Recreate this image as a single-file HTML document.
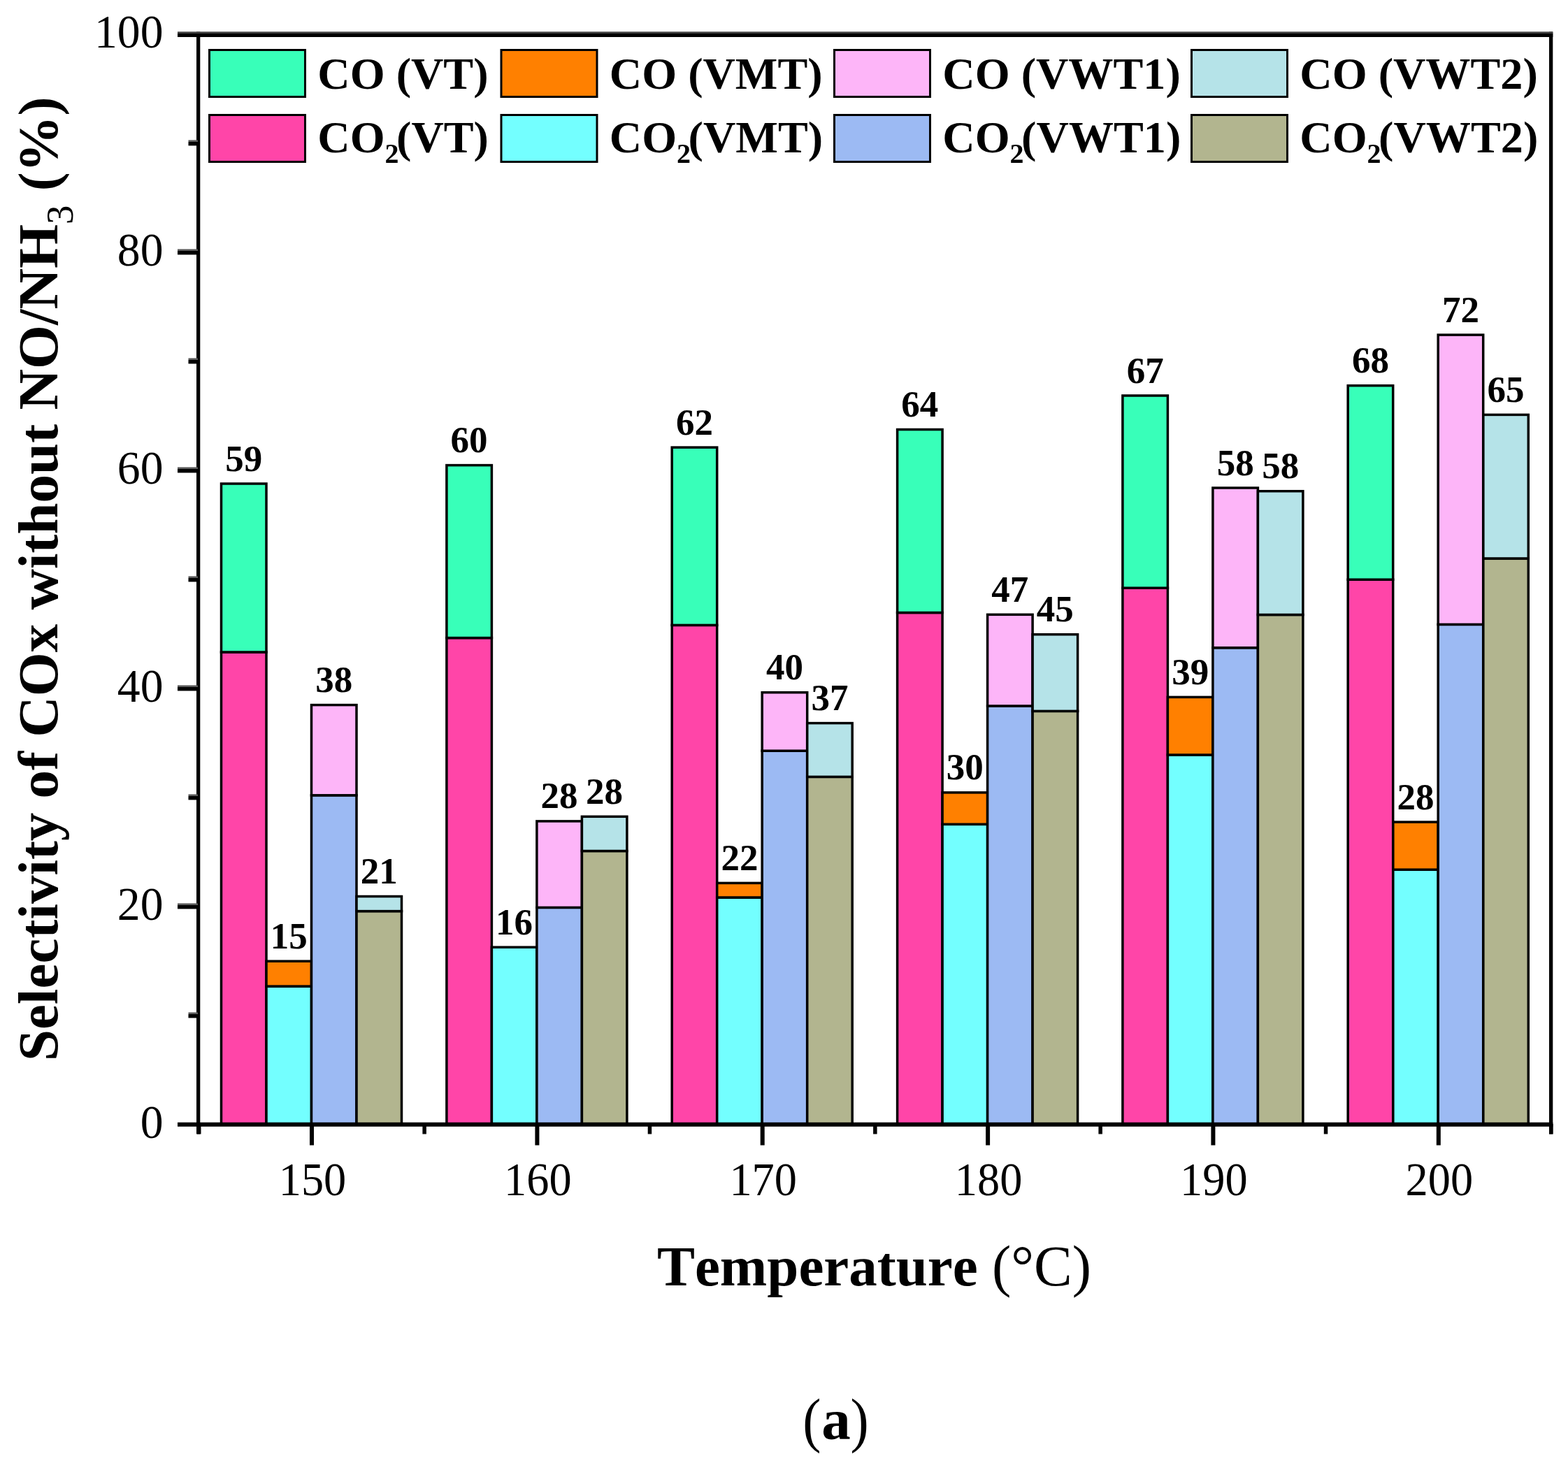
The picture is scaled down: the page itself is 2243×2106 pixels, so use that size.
<!DOCTYPE html>
<html><head><meta charset="utf-8"><title>Selectivity of COx</title><style>
*{margin:0;padding:0}
html,body{width:2243px;height:2106px;background:#fff;overflow:hidden}
svg{display:block}
text{font-family:"Liberation Serif","Times New Roman",serif;fill:#000;font-kerning:none;font-feature-settings:"kern" 0}
.dl{font-size:53px;font-weight:bold;text-anchor:middle}
.tk{font-size:67px}
.tkx{font-size:68.5px}
.lg{font-size:64.2px;font-weight:bold}
.lsub{font-size:40px}
.xt{font-size:81px;font-weight:bold}
.xtr{font-size:82px;font-weight:normal}
.yt{font-size:81px;font-weight:bold}
.ysub{font-size:55px;font-weight:normal}
.cap{font-size:86px}
.capb{font-size:83px;font-weight:bold}
</style></head>
<body>
<svg width="2243" height="2106" viewBox="0 0 2243 2106">
<rect x="0" y="0" width="2243" height="2106" fill="#fff"/>
<rect x="316.5" y="933.0" width="64.5" height="676.0" fill="#FF45A8" stroke="#000" stroke-width="3.5"/>
<rect x="316.5" y="692.0" width="64.5" height="241.0" fill="#38FFB9" stroke="#000" stroke-width="3.5"/>
<text x="348.8" y="673.5" class="dl">59</text>
<rect x="381.0" y="1411.1" width="64.5" height="197.9" fill="#73FFFF" stroke="#000" stroke-width="3.5"/>
<rect x="381.0" y="1375.2" width="64.5" height="35.9" fill="#FF8000" stroke="#000" stroke-width="3.5"/>
<text x="413.2" y="1356.7" class="dl">15</text>
<rect x="445.5" y="1137.8" width="64.5" height="471.2" fill="#9CBAF3" stroke="#000" stroke-width="3.5"/>
<rect x="445.5" y="1008.6" width="64.5" height="129.2" fill="#FDB5F8" stroke="#000" stroke-width="3.5"/>
<text x="477.8" y="990.1" class="dl">38</text>
<rect x="510.0" y="1303.6" width="64.5" height="305.4" fill="#B2B58F" stroke="#000" stroke-width="3.5"/>
<rect x="510.0" y="1282.5" width="64.5" height="21.1" fill="#B5E3E8" stroke="#000" stroke-width="3.5"/>
<text x="542.2" y="1264.0" class="dl">21</text>
<rect x="638.9" y="912.6" width="64.5" height="696.4" fill="#FF45A8" stroke="#000" stroke-width="3.5"/>
<rect x="638.9" y="665.6" width="64.5" height="247.0" fill="#38FFB9" stroke="#000" stroke-width="3.5"/>
<text x="671.1" y="647.1" class="dl">60</text>
<rect x="703.4" y="1355.2" width="64.5" height="253.8" fill="#73FFFF" stroke="#000" stroke-width="3.5"/>
<text x="735.6" y="1336.7" class="dl">16</text>
<rect x="767.9" y="1298.4" width="64.5" height="310.6" fill="#9CBAF3" stroke="#000" stroke-width="3.5"/>
<rect x="767.9" y="1174.9" width="64.5" height="123.5" fill="#FDB5F8" stroke="#000" stroke-width="3.5"/>
<text x="800.1" y="1156.4" class="dl">28</text>
<rect x="832.4" y="1217.5" width="64.5" height="391.5" fill="#B2B58F" stroke="#000" stroke-width="3.5"/>
<rect x="832.4" y="1168.3" width="64.5" height="49.2" fill="#B5E3E8" stroke="#000" stroke-width="3.5"/>
<text x="864.6" y="1149.8" class="dl">28</text>
<rect x="961.2" y="894.4" width="64.5" height="714.6" fill="#FF45A8" stroke="#000" stroke-width="3.5"/>
<rect x="961.2" y="640.1" width="64.5" height="254.3" fill="#38FFB9" stroke="#000" stroke-width="3.5"/>
<text x="993.5" y="621.6" class="dl">62</text>
<rect x="1025.7" y="1284.0" width="64.5" height="325.0" fill="#73FFFF" stroke="#000" stroke-width="3.5"/>
<rect x="1025.7" y="1263.4" width="64.5" height="20.6" fill="#FF8000" stroke="#000" stroke-width="3.5"/>
<text x="1058.0" y="1244.9" class="dl">22</text>
<rect x="1090.2" y="1074.2" width="64.5" height="534.8" fill="#9CBAF3" stroke="#000" stroke-width="3.5"/>
<rect x="1090.2" y="990.7" width="64.5" height="83.5" fill="#FDB5F8" stroke="#000" stroke-width="3.5"/>
<text x="1122.5" y="972.2" class="dl">40</text>
<rect x="1154.7" y="1111.4" width="64.5" height="497.6" fill="#B2B58F" stroke="#000" stroke-width="3.5"/>
<rect x="1154.7" y="1034.6" width="64.5" height="76.8" fill="#B5E3E8" stroke="#000" stroke-width="3.5"/>
<text x="1187.0" y="1016.1" class="dl">37</text>
<rect x="1283.6" y="876.5" width="64.5" height="732.5" fill="#FF45A8" stroke="#000" stroke-width="3.5"/>
<rect x="1283.6" y="614.5" width="64.5" height="262.0" fill="#38FFB9" stroke="#000" stroke-width="3.5"/>
<text x="1315.8" y="596.0" class="dl">64</text>
<rect x="1348.1" y="1179.3" width="64.5" height="429.7" fill="#73FFFF" stroke="#000" stroke-width="3.5"/>
<rect x="1348.1" y="1133.9" width="64.5" height="45.4" fill="#FF8000" stroke="#000" stroke-width="3.5"/>
<text x="1380.3" y="1115.4" class="dl">30</text>
<rect x="1412.6" y="1010.0" width="64.5" height="599.0" fill="#9CBAF3" stroke="#000" stroke-width="3.5"/>
<rect x="1412.6" y="879.3" width="64.5" height="130.7" fill="#FDB5F8" stroke="#000" stroke-width="3.5"/>
<text x="1444.8" y="860.8" class="dl">47</text>
<rect x="1477.1" y="1017.4" width="64.5" height="591.6" fill="#B2B58F" stroke="#000" stroke-width="3.5"/>
<rect x="1477.1" y="907.7" width="64.5" height="109.7" fill="#B5E3E8" stroke="#000" stroke-width="3.5"/>
<text x="1509.3" y="889.2" class="dl">45</text>
<rect x="1605.9" y="841.2" width="64.5" height="767.8" fill="#FF45A8" stroke="#000" stroke-width="3.5"/>
<rect x="1605.9" y="566.0" width="64.5" height="275.2" fill="#38FFB9" stroke="#000" stroke-width="3.5"/>
<text x="1638.2" y="547.5" class="dl">67</text>
<rect x="1670.4" y="1080.0" width="64.5" height="529.0" fill="#73FFFF" stroke="#000" stroke-width="3.5"/>
<rect x="1670.4" y="997.4" width="64.5" height="82.6" fill="#FF8000" stroke="#000" stroke-width="3.5"/>
<text x="1702.7" y="978.9" class="dl">39</text>
<rect x="1734.9" y="926.7" width="64.5" height="682.3" fill="#9CBAF3" stroke="#000" stroke-width="3.5"/>
<rect x="1734.9" y="698.0" width="64.5" height="228.7" fill="#FDB5F8" stroke="#000" stroke-width="3.5"/>
<text x="1767.2" y="679.5" class="dl">58</text>
<rect x="1799.4" y="879.5" width="64.5" height="729.5" fill="#B2B58F" stroke="#000" stroke-width="3.5"/>
<rect x="1799.4" y="702.7" width="64.5" height="176.8" fill="#B5E3E8" stroke="#000" stroke-width="3.5"/>
<text x="1831.7" y="684.2" class="dl">58</text>
<rect x="1928.2" y="829.2" width="64.5" height="779.8" fill="#FF45A8" stroke="#000" stroke-width="3.5"/>
<rect x="1928.2" y="551.7" width="64.5" height="277.5" fill="#38FFB9" stroke="#000" stroke-width="3.5"/>
<text x="1960.5" y="533.2" class="dl">68</text>
<rect x="1992.8" y="1244.2" width="64.5" height="364.8" fill="#73FFFF" stroke="#000" stroke-width="3.5"/>
<rect x="1992.8" y="1176.1" width="64.5" height="68.1" fill="#FF8000" stroke="#000" stroke-width="3.5"/>
<text x="2025.0" y="1157.6" class="dl">28</text>
<rect x="2057.2" y="893.4" width="64.5" height="715.6" fill="#9CBAF3" stroke="#000" stroke-width="3.5"/>
<rect x="2057.2" y="479.1" width="64.5" height="414.3" fill="#FDB5F8" stroke="#000" stroke-width="3.5"/>
<text x="2089.5" y="460.6" class="dl">72</text>
<rect x="2121.8" y="799.0" width="64.5" height="810.0" fill="#B2B58F" stroke="#000" stroke-width="3.5"/>
<rect x="2121.8" y="593.4" width="64.5" height="205.6" fill="#B5E3E8" stroke="#000" stroke-width="3.5"/>
<text x="2154.0" y="574.9" class="dl">65</text>
<rect x="281" y="45.5" width="5.3" height="1577" fill="#000"/>
<rect x="2216" y="45.5" width="5.3" height="1577" fill="#000"/>
<rect x="254" y="45.3" width="1967.3" height="2.7" fill="#444"/>
<rect x="254" y="47.9" width="1967.3" height="5.1" fill="#000"/>
<rect x="254" y="1605.8" width="1967.3" height="6" fill="#000"/>
<text transform="translate(233.5,1627.5) scale(0.98,1)" class="tk" text-anchor="end">0</text>
<rect x="269.5" y="1448.4" width="13.5" height="2.6" fill="#5a5a5a"/>
<rect x="269.5" y="1451.0" width="13.5" height="5.4" fill="#000"/>
<rect x="254" y="1292.4" width="29" height="2.6" fill="#5a5a5a"/>
<rect x="254" y="1295.0" width="29" height="5.4" fill="#000"/>
<text transform="translate(233.5,1315.5) scale(0.98,1)" class="tk" text-anchor="end">20</text>
<rect x="269.5" y="1136.4" width="13.5" height="2.6" fill="#5a5a5a"/>
<rect x="269.5" y="1139.0" width="13.5" height="5.4" fill="#000"/>
<rect x="254" y="980.4" width="29" height="2.6" fill="#5a5a5a"/>
<rect x="254" y="983.0" width="29" height="5.4" fill="#000"/>
<text transform="translate(233.5,1003.5) scale(0.98,1)" class="tk" text-anchor="end">40</text>
<rect x="269.5" y="824.4" width="13.5" height="2.6" fill="#5a5a5a"/>
<rect x="269.5" y="827.0" width="13.5" height="5.4" fill="#000"/>
<rect x="254" y="668.4" width="29" height="2.6" fill="#5a5a5a"/>
<rect x="254" y="671.0" width="29" height="5.4" fill="#000"/>
<text transform="translate(233.5,691.5) scale(0.98,1)" class="tk" text-anchor="end">60</text>
<rect x="269.5" y="512.4" width="13.5" height="2.6" fill="#5a5a5a"/>
<rect x="269.5" y="515.0" width="13.5" height="5.4" fill="#000"/>
<rect x="254" y="356.4" width="29" height="2.6" fill="#5a5a5a"/>
<rect x="254" y="359.0" width="29" height="5.4" fill="#000"/>
<text transform="translate(233.5,379.5) scale(0.98,1)" class="tk" text-anchor="end">80</text>
<rect x="269.5" y="200.4" width="13.5" height="2.6" fill="#5a5a5a"/>
<rect x="269.5" y="203.0" width="13.5" height="5.4" fill="#000"/>
<text transform="translate(233.5,67.5) scale(0.98,1)" class="tk" text-anchor="end">100</text>
<rect x="282.0" y="1608" width="5.5" height="14.5" fill="#000"/>
<rect x="443.0" y="1608" width="6" height="30.5" fill="#000"/>
<text transform="translate(447.0,1709.8) scale(0.94,1)" class="tkx" text-anchor="middle">150</text>
<rect x="604.4" y="1608" width="5.5" height="14.5" fill="#000"/>
<rect x="765.4" y="1608" width="6" height="30.5" fill="#000"/>
<text transform="translate(769.4,1709.8) scale(0.94,1)" class="tkx" text-anchor="middle">160</text>
<rect x="926.7" y="1608" width="5.5" height="14.5" fill="#000"/>
<rect x="1087.7" y="1608" width="6" height="30.5" fill="#000"/>
<text transform="translate(1091.7,1709.8) scale(0.94,1)" class="tkx" text-anchor="middle">170</text>
<rect x="1249.1" y="1608" width="5.5" height="14.5" fill="#000"/>
<rect x="1410.1" y="1608" width="6" height="30.5" fill="#000"/>
<text transform="translate(1414.1,1709.8) scale(0.94,1)" class="tkx" text-anchor="middle">180</text>
<rect x="1571.4" y="1608" width="5.5" height="14.5" fill="#000"/>
<rect x="1732.4" y="1608" width="6" height="30.5" fill="#000"/>
<text transform="translate(1736.4,1709.8) scale(0.94,1)" class="tkx" text-anchor="middle">190</text>
<rect x="1893.8" y="1608" width="5.5" height="14.5" fill="#000"/>
<rect x="2054.8" y="1608" width="6" height="30.5" fill="#000"/>
<text transform="translate(2058.8,1709.8) scale(0.94,1)" class="tkx" text-anchor="middle">200</text>
<rect x="2216.1" y="1608" width="5.5" height="14.5" fill="#000"/>
<rect x="299.5" y="71.5" width="137" height="67" fill="#38FFB9" stroke="#000" stroke-width="3"/>
<text x="454.3" y="126.5" class="lg">CO (VT)</text>
<rect x="299.5" y="164.5" width="137" height="67" fill="#FF45A8" stroke="#000" stroke-width="3"/>
<text x="454.3" y="217.5" class="lg">CO<tspan class="lsub" dy="15">2</tspan><tspan dy="-15" dx="-3.5">(VT)</tspan></text>
<rect x="717.0" y="71.5" width="137" height="67" fill="#FF8000" stroke="#000" stroke-width="3"/>
<text x="871.8" y="126.5" class="lg">CO (VMT)</text>
<rect x="717.0" y="164.5" width="137" height="67" fill="#73FFFF" stroke="#000" stroke-width="3"/>
<text x="871.8" y="217.5" class="lg">CO<tspan class="lsub" dy="15">2</tspan><tspan dy="-15" dx="-3.5">(VMT)</tspan></text>
<rect x="1193.5" y="71.5" width="137" height="67" fill="#FDB5F8" stroke="#000" stroke-width="3"/>
<text x="1348.3" y="126.5" class="lg">CO (VWT1)</text>
<rect x="1193.5" y="164.5" width="137" height="67" fill="#9CBAF3" stroke="#000" stroke-width="3"/>
<text x="1348.3" y="217.5" class="lg">CO<tspan class="lsub" dy="15">2</tspan><tspan dy="-15" dx="-3.5">(VWT1)</tspan></text>
<rect x="1704.5" y="71.5" width="137" height="67" fill="#B5E3E8" stroke="#000" stroke-width="3"/>
<text x="1859.3" y="126.5" class="lg">CO (VWT2)</text>
<rect x="1704.5" y="164.5" width="137" height="67" fill="#B2B58F" stroke="#000" stroke-width="3"/>
<text x="1859.3" y="217.5" class="lg">CO<tspan class="lsub" dy="15">2</tspan><tspan dy="-15" dx="-3.5">(VWT2)</tspan></text>
<text x="939.9" y="1838.5" class="xt">Temperature <tspan class="xtr">(°C)</tspan></text>
<text transform="translate(82,1518) rotate(-90)" class="yt">Selectivity of COx without NO/NH<tspan class="ysub" dy="21.5">3</tspan><tspan dy="-21.5"> (%)</tspan></text>
<text class="cap" transform="translate(1151.8,2060.5) scale(0.915,1)" x="-3.8">(</text>
<text class="capb" x="1175.3" y="2059.3">a</text>
<text class="cap" transform="translate(1219,2060.5) scale(0.915,1)" x="-2.8">)</text>
</svg>
</body></html>
